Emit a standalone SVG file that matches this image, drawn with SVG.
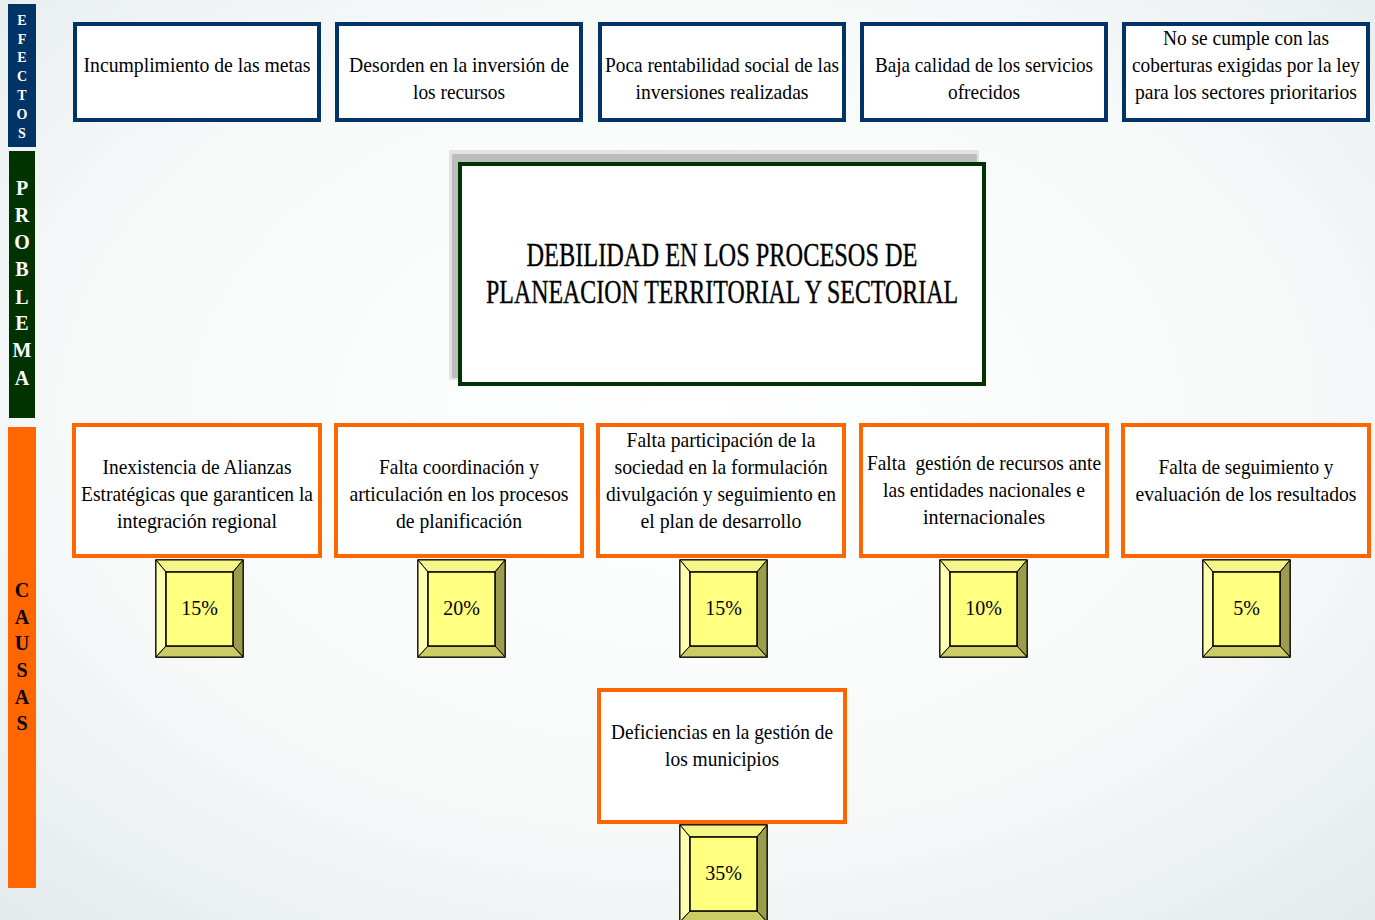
<svg xmlns="http://www.w3.org/2000/svg" width="1375" height="920" viewBox="0 0 1375 920">
<defs>
<radialGradient id="bg" cx="0.5" cy="0.45" r="0.75">
<stop offset="0" stop-color="#FFFFFF"/>
<stop offset="0.6" stop-color="#F7F9F9"/>
<stop offset="1" stop-color="#E3EAEC"/>
</radialGradient>
<g id="pct">
<rect x="0" y="0" width="87" height="97" fill="#FFFF80" stroke="#000" stroke-width="1.5"/>
<polygon points="0,0 87,0 77,12 10,12" fill="#F5F588" stroke="#000" stroke-width="1"/>
<polygon points="0,0 10,12 10,86 0,97" fill="#FFFFB0" stroke="#000" stroke-width="1"/>
<polygon points="87,0 87,97 77,86 77,12" fill="#9C9C4E" stroke="#000" stroke-width="1"/>
<polygon points="0,97 87,97 77,86 10,86" fill="#CCCC66" stroke="#000" stroke-width="1"/>
<rect x="10" y="12" width="67" height="74" fill="#FFFF80" stroke="#000" stroke-width="1.5"/>
</g>
</defs>
<style>
text{font-family:'Liberation Serif','DejaVu Serif Condensed','DejaVu Serif',serif}
.t{font-size:22px;fill:#000;text-anchor:middle}
.p{font-size:20px;fill:#000;text-anchor:middle}
.big{font-size:34px;fill:#000;text-anchor:middle;stroke:#000;stroke-width:0.4}
.eff{fill:#FFFFFF;stroke:#003366;stroke-width:4}
.cau{fill:#FFFFFF;stroke:#FF6600;stroke-width:4}
.lw{font-weight:bold;fill:#FFFFFF;text-anchor:middle}
.lb{font-weight:bold;fill:#000;text-anchor:middle}
</style>
<rect x="0" y="0" width="1375" height="920" fill="url(#bg)"/>

<g id="bar-efectos">
<rect x="8" y="4" width="28" height="143" fill="#003366"/>
<g class="lw" font-size="14">
<text x="22" y="25">E</text><text x="22" y="44">F</text><text x="22" y="62">E</text><text x="22" y="81">C</text><text x="22" y="100">T</text><text x="22" y="119">O</text><text x="22" y="138">S</text>
</g>
</g>
<g id="bar-problema">
<rect x="9" y="151" width="26" height="267" fill="#003300"/>
<g class="lw" font-size="20">
<text x="22" y="195">P</text><text x="22" y="222">R</text><text x="22" y="249">O</text><text x="22" y="276">B</text><text x="22" y="304">L</text><text x="22" y="330">E</text><text x="22" y="357">M</text><text x="22" y="385">A</text>
</g>
</g>
<g id="bar-causas">
<rect x="8" y="427" width="28" height="461" fill="#FF6600"/>
<g class="lb" font-size="20">
<text x="22" y="597">C</text><text x="22" y="624">A</text><text x="22" y="650">U</text><text x="22" y="677">S</text><text x="22" y="704">A</text><text x="22" y="730">S</text>
</g>
</g>

<g id="efecto1">
<rect class="eff" x="75" y="24" width="244" height="96"/>
<text class="t" x="197" y="72" textLength="227" lengthAdjust="spacingAndGlyphs">Incumplimiento de las metas</text>
</g>
<g id="efecto2">
<rect class="eff" x="337" y="24" width="244" height="96"/>
<text class="t" x="459" y="72" textLength="220" lengthAdjust="spacingAndGlyphs">Desorden en la inversión de</text>
<text class="t" x="459" y="99" textLength="92" lengthAdjust="spacingAndGlyphs">los recursos</text>
</g>
<g id="efecto3">
<rect class="eff" x="600" y="24" width="244" height="96"/>
<text class="t" x="722" y="72" textLength="234" lengthAdjust="spacingAndGlyphs">Poca rentabilidad social de las</text>
<text class="t" x="722" y="99" textLength="173" lengthAdjust="spacingAndGlyphs">inversiones realizadas</text>
</g>
<g id="efecto4">
<rect class="eff" x="862" y="24" width="244" height="96"/>
<text class="t" x="984" y="72" textLength="218" lengthAdjust="spacingAndGlyphs">Baja calidad de los servicios</text>
<text class="t" x="984" y="99" textLength="72" lengthAdjust="spacingAndGlyphs">ofrecidos</text>
</g>
<g id="efecto5">
<rect class="eff" x="1124" y="24" width="244" height="96"/>
<text class="t" x="1246" y="45" textLength="166" lengthAdjust="spacingAndGlyphs">No se cumple con las</text>
<text class="t" x="1246" y="72" textLength="228" lengthAdjust="spacingAndGlyphs">coberturas exigidas por la ley</text>
<text class="t" x="1246" y="99" textLength="222" lengthAdjust="spacingAndGlyphs">para los sectores prioritarios</text>
</g>

<g id="problema">
<rect x="449" y="150" width="530" height="230" fill="#E2E2E2"/>
<rect x="452" y="154" width="525" height="224" fill="#BDBDBD"/>
<rect x="460" y="164" width="524" height="220" fill="#FFFFFF" stroke="#003300" stroke-width="4"/>
<text class="big" x="722" y="266" textLength="391" lengthAdjust="spacingAndGlyphs">DEBILIDAD EN LOS PROCESOS DE</text>
<text class="big" x="722" y="303" textLength="472" lengthAdjust="spacingAndGlyphs">PLANEACION TERRITORIAL Y SECTORIAL</text>
</g>

<g id="causa1">
<rect class="cau" x="74" y="425" width="246" height="131"/>
<text class="t" x="197" y="474" textLength="189" lengthAdjust="spacingAndGlyphs">Inexistencia de Alianzas</text>
<text class="t" x="197" y="501" textLength="232" lengthAdjust="spacingAndGlyphs">Estratégicas que garanticen la</text>
<text class="t" x="197" y="528" textLength="160" lengthAdjust="spacingAndGlyphs">integración regional</text>
</g>
<g id="causa2">
<rect class="cau" x="336" y="425" width="246" height="131"/>
<text class="t" x="459" y="474" textLength="160" lengthAdjust="spacingAndGlyphs">Falta coordinación y</text>
<text class="t" x="459" y="501" textLength="219" lengthAdjust="spacingAndGlyphs">articulación en los procesos</text>
<text class="t" x="459" y="528" textLength="126" lengthAdjust="spacingAndGlyphs">de planificación</text>
</g>
<g id="causa3">
<rect class="cau" x="598" y="425" width="246" height="131"/>
<text class="t" x="721" y="447" textLength="189" lengthAdjust="spacingAndGlyphs">Falta participación de la</text>
<text class="t" x="721" y="474" textLength="213" lengthAdjust="spacingAndGlyphs">sociedad en la formulación</text>
<text class="t" x="721" y="501" textLength="230" lengthAdjust="spacingAndGlyphs">divulgación y seguimiento en</text>
<text class="t" x="721" y="528" textLength="161" lengthAdjust="spacingAndGlyphs">el plan de desarrollo</text>
</g>
<g id="causa4">
<rect class="cau" x="861" y="425" width="246" height="131"/>
<text class="t" x="984" y="470" textLength="234" lengthAdjust="spacingAndGlyphs" xml:space="preserve">Falta  gestión de recursos ante</text>
<text class="t" x="984" y="497" textLength="202" lengthAdjust="spacingAndGlyphs">las entidades nacionales e</text>
<text class="t" x="984" y="524" textLength="122" lengthAdjust="spacingAndGlyphs">internacionales</text>
</g>
<g id="causa5">
<rect class="cau" x="1123" y="425" width="246" height="131"/>
<text class="t" x="1246" y="474" textLength="175" lengthAdjust="spacingAndGlyphs">Falta de seguimiento y</text>
<text class="t" x="1246" y="501" textLength="221" lengthAdjust="spacingAndGlyphs">evaluación de los resultados</text>
</g>
<g id="causa6">
<rect class="cau" x="599" y="690" width="246" height="132"/>
<text class="t" x="722" y="739" textLength="222" lengthAdjust="spacingAndGlyphs">Deficiencias en la gestión de</text>
<text class="t" x="722" y="766" textLength="114" lengthAdjust="spacingAndGlyphs">los municipios</text>
</g>

<g id="pct1"><use href="#pct" x="156" y="560"/><text class="p" x="199.5" y="615">15%</text></g>
<g id="pct2"><use href="#pct" x="418" y="560"/><text class="p" x="461.5" y="615">20%</text></g>
<g id="pct3"><use href="#pct" x="680" y="560"/><text class="p" x="723.5" y="615">15%</text></g>
<g id="pct4"><use href="#pct" x="940" y="560"/><text class="p" x="983.5" y="615">10%</text></g>
<g id="pct5"><use href="#pct" x="1203" y="560"/><text class="p" x="1246.5" y="615">5%</text></g>
<g id="pct6"><use href="#pct" x="680" y="825"/><text class="p" x="723.5" y="880">35%</text></g>

<g id="connectors"></g>
</svg>
